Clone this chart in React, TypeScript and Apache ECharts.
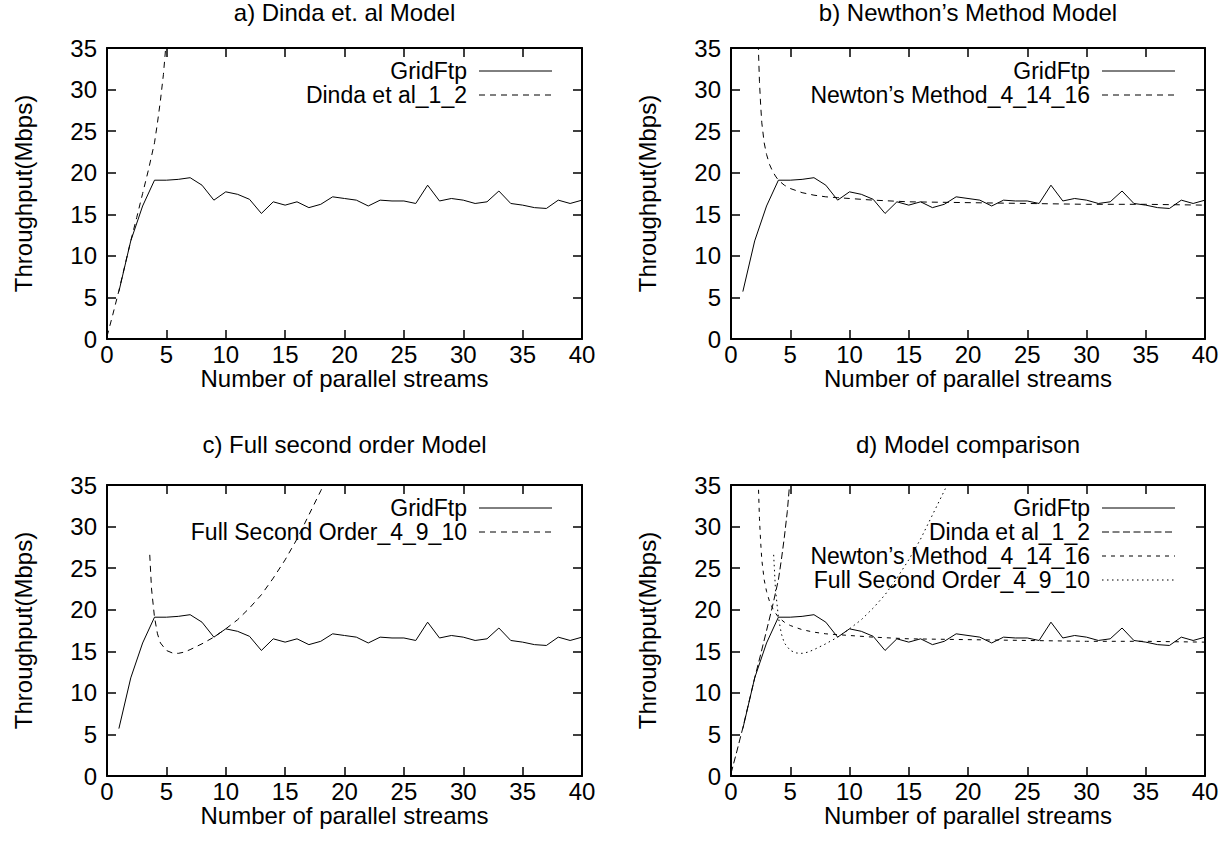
import React, { useEffect, useRef } from "react";
import * as echarts from "echarts";

// ---------- data ----------
const streams = [1, 2, 3, 4, 5, 6, 7, 8, 9, 10, 11, 12, 13, 14, 15, 16, 17, 18, 19, 20,
  21, 22, 23, 24, 25, 26, 27, 28, 29, 30, 31, 32, 33, 34, 35, 36, 37, 38, 39, 40];
const gridftp = [5.7, 11.8, 16.0, 19.1, 19.1, 19.2, 19.4, 18.5, 16.7, 17.7, 17.4, 16.8, 15.1, 16.5, 16.1,
  16.5, 15.8, 16.2, 17.1, 16.9, 16.7, 16.0, 16.7, 16.6, 16.6, 16.3, 18.5, 16.6, 16.9, 16.7,
  16.3, 16.5, 17.8, 16.3, 16.1, 15.8, 15.7, 16.7, 16.3, 16.7];

const dindaX = [0, 0.5, 1, 1.5, 2, 2.5, 3, 3.5, 4, 4.25, 4.5, 4.75, 5];
const dindaY = [0.3, 3.0, 5.8, 8.8, 11.8, 14.6, 17.5, 20.4, 23.6, 26.0, 28.7, 31.8, 36.0];

const newtonX = [2.3, 2.4, 2.5, 2.6, 2.8, 3.0, 3.25, 3.5, 3.75, 4, 4.5, 5, 6, 7, 8, 9, 10, 12, 15, 20, 25, 30, 35, 40];
const newtonY = [35.5, 31.0, 28.2, 26.0, 23.6, 22.2, 21.0, 20.2, 19.6, 19.1, 18.5, 18.1, 17.6, 17.3, 17.1, 17.0,
  16.9, 16.7, 16.5, 16.4, 16.3, 16.2, 16.2, 16.1];

const fullX = [3.6, 3.75, 4, 4.25, 4.5, 5, 5.5, 6, 6.5, 7, 8, 9, 10, 11, 12, 13, 14, 15, 16, 17, 18, 18.5];
const fullY = [26.6, 22.5, 19.1, 17.1, 16.0, 15.1, 14.8, 14.75, 14.9, 15.2, 15.9, 16.7, 17.7, 18.8, 20.2, 21.8,
  23.8, 26.0, 28.5, 31.4, 34.3, 35.8];

const panelTitles = [
  "a) Dinda et. al Model",
  "b) Newthon\u2019s Method Model",
  "c) Full second order Model",
  "d) Model comparison",
];
const nameGrid = "GridFtp";
const nameDinda = "Dinda et al_1_2";
const nameNewton = "Newton\u2019s Method_4_14_16";
const nameFull = "Full Second Order_4_9_10";
const xAxisName = "Number of parallel streams";
const yAxisName = "Throughput(Mbps)";
const xMin = 0, xMax = 40, xStep = 5;
const yMin = 0, yMax = 35, yStep = 5;

// ---------- styling / layout ----------
const FONT = "'Liberation Sans', Arial, Helvetica, sans-serif";
const FS = 24;
const FS_KEY = 23;
const grids = [
  { left: 107, top: 48, width: 475, height: 291 },
  { left: 731, top: 48, width: 474, height: 291 },
  { left: 107, top: 485, width: 475, height: 291 },
  { left: 731, top: 485, width: 474, height: 291 },
];
const DASH: number[] = [6, 5];
const D_LONG: number[] = [7, 3.5];
const D_SHORT: number[] = [4, 5];
const D_DOT: number[] = [1.5, 3.5];

const pairs = (xs: number[], ys: number[]) => xs.map((x, i) => [x, ys[i]]);

export default function App() {
  const ref = useRef<HTMLDivElement>(null);
  useEffect(() => {
    if (!ref.current) return;
    const chart = echarts.init(ref.current, undefined, { renderer: "svg" });

    const xAxes: any[] = [];
    const yAxes: any[] = [];
    grids.forEach((_, p) => {
      const axisLine = { show: true, onZero: false, lineStyle: { color: "#000", width: 2 } };
      const axisTick = { show: true, inside: true, length: 9, lineStyle: { color: "#000", width: 1.5 } };
      xAxes.push({
        gridIndex: p, type: "value", min: xMin, max: xMax, interval: xStep, position: "bottom",
        axisLine, axisTick, splitLine: { show: false },
        axisLabel: { margin: 3, color: "#000", fontSize: FS, fontFamily: FONT },
        name: xAxisName, nameLocation: "middle", nameGap: 26,
        nameTextStyle: { color: "#000", fontSize: FS, fontFamily: FONT },
      });
      xAxes.push({
        gridIndex: p, type: "value", min: xMin, max: xMax, interval: xStep, position: "top",
        axisLine, axisTick, splitLine: { show: false }, axisLabel: { show: false },
      });
      yAxes.push({
        gridIndex: p, type: "value", min: yMin, max: yMax, interval: yStep, position: "left",
        axisLine, axisTick, splitLine: { show: false },
        axisLabel: { margin: 10, color: "#000", fontSize: FS, fontFamily: FONT },
        name: yAxisName, nameLocation: "middle", nameGap: 72,
        nameTextStyle: { color: "#000", fontSize: FS, fontFamily: FONT },
      });
      yAxes.push({
        gridIndex: p, type: "value", min: yMin, max: yMax, interval: yStep, position: "right",
        axisLine, axisTick, splitLine: { show: false }, axisLabel: { show: false },
      });
    });

    const mk = (p: number, name: string, data: number[][], type: any) => ({
      type: "line", name, xAxisIndex: 2 * p, yAxisIndex: 2 * p, data,
      symbol: "none", showSymbol: false, clip: true, silent: true,
      lineStyle: { color: "#000", width: 1, type },
    });
    const grid = pairs(streams, gridftp);
    const series = [
      mk(0, nameGrid, grid, "solid"),
      mk(0, nameDinda, pairs(dindaX, dindaY), DASH),
      mk(1, nameGrid, grid, "solid"),
      mk(1, nameNewton, pairs(newtonX, newtonY), DASH),
      mk(2, nameGrid, grid, "solid"),
      mk(2, nameFull, pairs(fullX, fullY), DASH),
      mk(3, nameGrid, grid, "solid"),
      mk(3, nameDinda, pairs(dindaX, dindaY), D_LONG),
      mk(3, nameNewton, pairs(newtonX, newtonY), D_SHORT),
      mk(3, nameFull, pairs(fullX, fullY), D_DOT),
    ];

    // gnuplot-style keys (text right-aligned, sample line at right)
    const legends: [number, string[], any[]][] = [
      [0, [nameGrid, nameDinda], [null, DASH]],
      [1, [nameGrid, nameNewton], [null, DASH]],
      [2, [nameGrid, nameFull], [null, DASH]],
      [3, [nameGrid, nameDinda, nameNewton, nameFull], [null, D_LONG, D_SHORT, D_DOT]],
    ];
    const graphic: any[] = [];
    legends.forEach(([p, names, dashes]) => {
      const g = grids[p];
      const right = g.left + g.width;
      names.forEach((n, i) => {
        const y = g.top + 23 + i * 24;
        graphic.push({
          type: "text", x: right - 115, y,
          style: { text: n, textAlign: "right", textVerticalAlign: "middle", fill: "#000", fontSize: FS_KEY, fontFamily: FONT },
        });
        graphic.push({
          type: "line", shape: { x1: right - 103, y1: y, x2: right - 30, y2: y },
          style: { stroke: "#000", lineWidth: 1, lineDash: dashes[i] || null },
        });
      });
    });

    const title = panelTitles.map((t, p) => ({
      text: t, left: grids[p].left + grids[p].width / 2, top: p < 2 ? 0 : 432, textAlign: "center", padding: 0,
      textStyle: { color: "#000", fontSize: FS, fontWeight: "normal", fontFamily: FONT },
    }));

    chart.setOption({
      animation: false,
      backgroundColor: "#fff",
      title,
      grid: grids.map((g) => ({ ...g, containLabel: false })),
      xAxis: xAxes,
      yAxis: yAxes,
      series,
      graphic,
    });
    return () => chart.dispose();
  }, []);
  return <div ref={ref} style={{ position: "fixed", left: 0, top: 0, width: 1232, height: 856 }} />;
}
